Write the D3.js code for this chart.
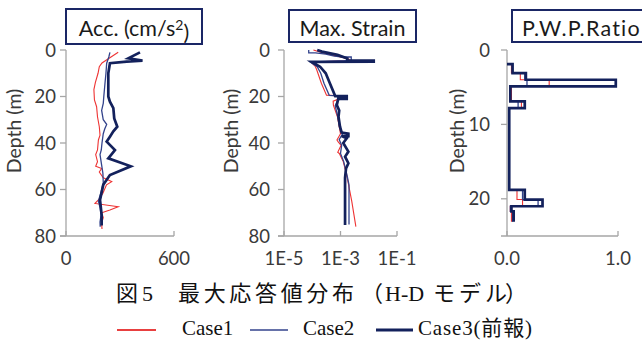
<!DOCTYPE html>
<html>
<head>
<meta charset="utf-8">
<script src="https://cdn.jsdelivr.net/npm/d3@7"></script>
<style>
  body { margin: 0; background: #fff; }
  svg { display: block; }
</style>
</head>
<body>
<div id="chart"></div>
<script>
// Acc. profiles: [depth (m), acc (cm/s2)]
const accCase1 = [[1,290],[3,250],[5.6,200],[7.2,185],[10,178],[14,163],[17,155],[21.5,158],[24.4,170],[28.7,175],[33,185],[36.6,189],[38.7,180],[43,175],[45,165],[48,175],[50,165],[51,198],[52.5,185],[55,207],[56.6,254],[58,225],[61.6,205],[64.5,180],[66,161],[67.4,290],[68.8,244],[70,198],[72,207],[74.5,198],[77,200]];
const accCase2 = [[1,244],[3,238],[5.7,226],[10,222],[14,217],[20,210],[23,207],[26,198],[30,207],[32,226],[34,215],[36,207],[40,200],[43,196],[45,189],[49.5,198],[53,205],[57,207],[61,195],[65,180],[68,190],[71,195],[74,189],[76,190]];
const accCase3 = [[1,411],[3.6,346],[4.6,425],[5,337],[5.7,244],[10,235],[20,235],[22.2,244],[25,263],[29.4,268],[33,285],[35,263],[37.3,244],[39.4,226],[43,272],[46.6,235],[50,360],[53.8,244],[58,207],[64.5,189],[71,198],[75.5,198]];

// Max. strain profiles: [depth (m), strain]
const strainCase1 = [[0,1.1e-4],[1.0,2e-4],[2.0,4.5e-4],[3.2,1.2e-3],[4.0,2.0e-3],[4.6,1.8e-3],[5.2,9e-5],[7.2,1.3e-4],[8.6,1.45e-4],[14.3,2.1e-4],[19.4,3.2e-4],[19.8,1.1e-3],[20.8,1.0e-3],[22,5.5e-4],[23.7,5.6e-4],[28.7,7.8e-4],[33,9e-4],[36,1e-3],[38.7,7.5e-4],[39.5,8.3e-4],[41,1.05e-3],[44,8e-4],[44.5,9.1e-4],[48,1.25e-3],[53.8,1.66e-3],[65,2.5e-3],[76,3.5e-3]];
const strainCase2 = [[0,7.5e-5],[1.2,7.5e-5],[1.2,1.3e-4],[1.8,3e-4],[2.6,6e-4],[3.0,1.2e-3],[3.0,2.4e-3],[4.4,2.4e-3],[4.6,1.4e-3],[5.2,8.5e-5],[7.2,1.5e-4],[10,2e-4],[14.3,2.6e-4],[19.5,4e-4],[19.8,1.2e-3],[21,1.2e-3],[21.5,8e-4],[24,6.5e-4],[28.7,8e-4],[33,9.2e-4],[36,1.2e-3],[38.5,9e-4],[41,1.1e-3],[44.5,1e-3],[48,1.3e-3],[53.8,1.7e-3],[58,2e-3],[75,2e-3]];
const strainCase3 = [[0,1.5e-4],[0.7,2.2e-4],[2.1,7.8e-4],[3.6,1.75e-3],[4.6,1.75e-3],[4.6,1.5e-2],[5.0,1.5e-2],[5.1,9.5e-5],[7.2,1.9e-4],[10,3e-4],[14.3,4.2e-4],[19.8,6.5e-4],[19.8,1.66e-3],[21,1.66e-3],[21,8.3e-4],[23.7,7.4e-4],[26,9e-4],[28.7,8.5e-4],[33,9.6e-4],[35.5,1.1e-3],[36,1.9e-3],[37,1.9e-3],[37,1.1e-3],[38,1.66e-3],[40,1.25e-3],[43.7,1.9e-3],[45.9,1.45e-3],[48.7,1.9e-3],[50.9,1.57e-3],[55,1.45e-3],[75.3,1.45e-3]];

// P.W.P. ratio: layer boundaries (m) and one value per layer
const pwpDepth = [1.9, 3.1, 4.0, 4.9, 6.9, 7.8, 18.8, 20.1, 21.0, 21.7, 23.1];
const pwpCase1 = [0.04, 0.12, 0.38, 0.04, 0.13, 0.02, 0.09, 0.14, 0.03, 0.04];
const pwpCase2 = [0.05, 0.16, 0.18, 0.03, 0.10, 0.02, 0.14, 0.28, 0.03, 0.05];
const pwpCase3 = [0.05, 0.17, 0.98, 0.03, 0.16, 0.02, 0.16, 0.32, 0.04, 0.06];

// Tick labels
const depthTicksLong = [0, 20, 40, 60, 80];
const depthTicksShort = [0, 10, 20];
const accTicks = [0, 600];
const strainTicks = [1e-5, 1e-3, 1e-1];
const strainTickLabels = ["1E-5", "1E-3", "1E-1"];
const pwpTicks = [0, 1];

const caseNames = ["Case1", "Case2", "Case3(前報)"];
const caseStyles = [
  { color: "#ee3333", width: 1.1 },
  { color: "#33438c", width: 1.3 },
  { color: "#13215c", width: 2.7 }
];

const svg = d3.select("#chart").append("svg")
  .attr("width", 642).attr("height", 343);

svg.append("rect").attr("width", 642).attr("height", 343).attr("fill", "#fff");

const sans = "Lato, 'Open Sans', sans-serif";
const serif = "'Liberation Serif', 'Noto Sans CJK JP', serif";
const axisColor = "#a6a6a6";
const textColor = "#3a3a3a";

// Panel layouts
const panels = [
  {
    x: d3.scaleLinear().domain([0, 600]).range([66, 174]),
    y: d3.scaleLinear().domain([0, 80]).range([50, 236]),
    xTicks: accTicks, xFmt: d => d3.format("d")(d),
    yTicks: depthTicksLong, labelGap: 10, yLabelX: 14,
    box: [66, 9, 136, 35], title: "acc",
    series: [accCase1, accCase2, accCase3]
  },
  {
    x: d3.scaleLog().domain([1e-5, 1e-1]).range([284, 397]),
    y: d3.scaleLinear().domain([0, 80]).range([50, 236]),
    xTicks: strainTicks, xFmt: (d, i) => strainTickLabels[i],
    yTicks: depthTicksLong, labelGap: 14, yLabelX: 231,
    box: [289, 10, 127, 32], title: "Max. Strain",
    series: [strainCase1, strainCase2, strainCase3]
  },
  {
    x: d3.scaleLinear().domain([0, 1]).range([507, 618]),
    y: d3.scaleLinear().domain([0, 25]).range([50, 236]),
    xTicks: pwpTicks, xFmt: d => d3.format(".1f")(d),
    yTicks: depthTicksShort, labelGap: 17, yLabelX: 457,
    box: [512, 10, 140, 32], title: "P.W.P.Ratio",
    series: [pwpCase1, pwpCase2, pwpCase3].map(vals => {
      // Step profile built from layer boundaries
      const pts = [[pwpDepth[0], 0]];
      vals.forEach((v, i) => {
        pts.push([pwpDepth[i], v]);
        pts.push([pwpDepth[i + 1], v]);
      });
      return pts;
    })
  }
];

panels.forEach(p => {
  const g = svg.append("g");
  const [x0, x1] = p.x.range();
  const [y0, y1] = p.y.range();

  // Axes
  g.append("line").attr("x1", x0).attr("x2", x0).attr("y1", y0).attr("y2", y1)
    .attr("stroke", axisColor).attr("stroke-width", 1.3);
  g.append("line").attr("x1", x0 - 6).attr("x2", x1).attr("y1", y1).attr("y2", y1)
    .attr("stroke", axisColor).attr("stroke-width", 1.3);

  p.yTicks.forEach(t => {
    g.append("line").attr("x1", x0 - 6).attr("x2", x0).attr("y1", p.y(t)).attr("y2", p.y(t))
      .attr("stroke", axisColor).attr("stroke-width", 1.3);
    g.append("text").attr("x", x0 - p.labelGap).attr("y", p.y(t)).attr("dy", "0.36em")
      .attr("text-anchor", "end").attr("fill", textColor)
      .style("font-family", sans).style("font-size", "18.5px").text(t);
  });

  p.xTicks.forEach((t, i) => {
    g.append("line").attr("x1", p.x(t)).attr("x2", p.x(t)).attr("y1", y1 - 5).attr("y2", y1)
      .attr("stroke", axisColor).attr("stroke-width", 1.3);
    g.append("text").attr("x", p.x(t)).attr("y", 265)
      .attr("text-anchor", "middle").attr("fill", textColor)
      .style("font-family", sans).style("font-size", "18.5px").text(p.xFmt(t, i));
  });

  // Depth label
  g.append("text")
    .attr("transform", `translate(${p.yLabelX}, 131) rotate(-90)`)
    .attr("dy", "0.35em").attr("text-anchor", "middle").attr("fill", textColor)
    .style("font-family", sans).style("font-size", "19.5px").text("Depth (m)");

  // Profiles
  const line = d3.line().x(d => p.x(d[1])).y(d => p.y(d[0]));
  p.series.forEach((s, i) => {
    g.append("path").datum(s).attr("d", line)
      .attr("fill", "none").attr("stroke", caseStyles[i].color)
      .attr("stroke-width", caseStyles[i].width).attr("stroke-linejoin", "miter");
  });

  // Title box
  const [bx, by, bw, bh] = p.box;
  g.append("rect").attr("x", bx).attr("y", by).attr("width", bw).attr("height", bh)
    .attr("fill", "#fff").attr("stroke", "#1a2665").attr("stroke-width", 2);
  const tt = g.append("text").attr("x", bx + bw / 2).attr("y", by + bh / 2).attr("dy", "0.45em")
    .attr("text-anchor", p.title === "P.W.P.Ratio" ? "start" : "middle").attr("fill", "#1a1a1a")
    .style("font-family", sans).style("font-size", "21.5px");
  if (p.title === "acc") {
    tt.append("tspan").text("Acc. (cm/s");
    tt.append("tspan").attr("dy", "-0.45em").style("font-size", "14px").text("2");
    tt.append("tspan").attr("dy", "0.45em").text(")");
  } else if (p.title === "P.W.P.Ratio") {
    tt.attr("x", bx + 10).style("letter-spacing", "1.2px").text(p.title);
  } else {
    tt.text(p.title);
  }
});

// Caption, placed piece by piece (the original is letter-spaced)
const captionParts = [
  ["図", 116, null],
  ["5", 142, null],
  ["最大応答値分布", 178, 176],
  ["（", 361, null],
  ["H-D", 385, null],
  ["モデル", 433, 74],
  ["）", 505, null]
];
captionParts.forEach(([txt, x, len]) => {
  const t = svg.append("text").attr("x", x).attr("y", 301)
    .attr("fill", "#111")
    .style("font-family", serif).style("font-size", "22px").text(txt);
  if (len) t.attr("textLength", len).attr("lengthAdjust", "spacing");
});

// Legend
const legendX = [[117, 156, 182], [250, 288, 303], [376, 413, 418]];
const legendLen = [null, null, 114];
caseNames.forEach((name, i) => {
  const [lx0, lx1, tx] = legendX[i];
  svg.append("line").attr("x1", lx0).attr("x2", lx1).attr("y1", 330).attr("y2", 330)
    .attr("stroke", i === 0 ? "#e00000" : caseStyles[i].color)
    .attr("stroke-width", i === 2 ? 3.2 : 1.6);
  const t = svg.append("text").attr("x", tx).attr("y", 335)
    .attr("fill", "#111")
    .style("font-family", serif).style("font-size", "21px").text(name);
  if (legendLen[i]) t.attr("textLength", legendLen[i]).attr("lengthAdjust", "spacing");
});
</script>
</body>
</html>
